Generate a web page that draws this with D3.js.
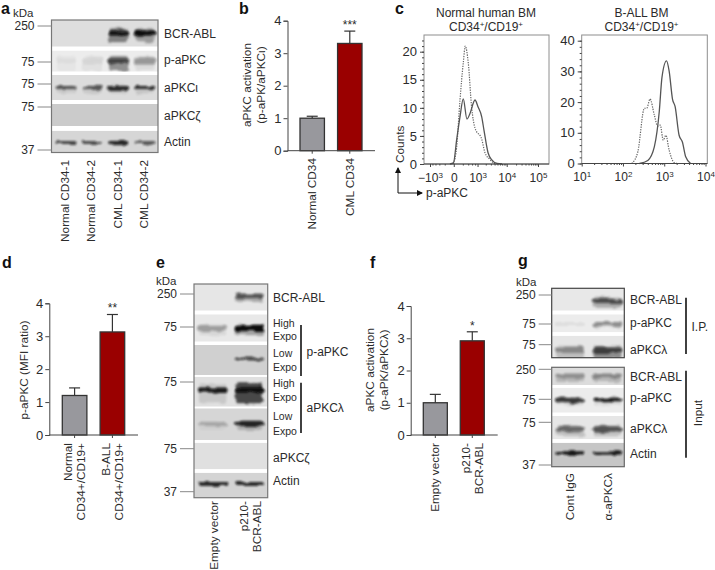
<!DOCTYPE html>
<html>
<head>
<meta charset="utf-8">
<script src="https://d3js.org/d3.v7.min.js"></script>
<style>
  body { margin: 0; background: #fff; }
  svg { display: block; }
  text { font-family: "Liberation Sans", Arial, sans-serif; fill: #2b2b2b; font-size: 12px; }
  .letter { font-size: 16px; font-weight: bold; fill: #111; }
  .axis path, .axis line { stroke: #444; stroke-width: 1; }
  .flow .axis path { display: none; }
</style>
</head>
<body>
<script>
// ---- data ----

// panel a
var aLanes = ["Normal CD34-1", "Normal CD34-2", "CML CD34-1", "CML CD34-2"];
var aProteins = ["BCR-ABL", "p-aPKC", "aPKC\u03b9", "aPKC\u03b6", "Actin"];
var aKda = ["250", "75", "75", "75", "37"];
var aBands = [[0, 0, 0.95, 1], [0.03, 0.05, 0.6, 0.32], [0.62, 0.6, 0.82, 0.8], [0, 0, 0, 0], [0.72, 0.68, 0.85, 0.62]];
var aSmear = [[0, 0, 0.5, 0.35], [0.03, 0.05, 0.45, 0.08], [0.1, 0.1, 0.12, 0.12], [0, 0, 0, 0], [0, 0, 0.1, 0]];

// panel b
var bCats = ["Normal CD34", "CML CD34"];
var bMeans = [1.0, 3.3];
var bTops = [1.06, 3.68];

// panel c, flow histograms as [intensity, counts]
var cNormalSolid = [[-70, 0], [-5, 0.2], [50, 4.3], [123, 8.4], [214, 11.6], [347, 8], [486, 9], [794, 11.4], [1040, 10.2], [1432, 8.4], [1731, 6], [2397, 2], [3274, 0.7], [4815, 0.1], [7040, 0]];
var cNormalDotted = [[-5, 0], [50, 3], [123, 11.4], [214, 18], [282, 21], [403, 18], [578, 10], [794, 6.4], [1432, 4.4], [1880, 2], [2800, 0.8], [4000, 0.1], [5500, 0]];
var cAllSolid = [[251, 0], [400, 1], [575, 5.4], [759, 17], [880, 28], [1138, 33.4], [1318, 30], [1585, 21], [1837, 18.5], [2291, 9.2], [2754, 7], [3311, 2.2], [4365, 0]];
var cAllDotted = [[164, 0], [229, 3.8], [331, 18], [377, 18], [453, 21], [575, 15.8], [692, 12.2], [802, 12.5], [946, 7.6], [1096, 9.2], [1318, 4.3], [1738, 0.3], [2089, 0]];
var cNormalXTicks = [-1000, 0, 1000, 10000, 100000];
var cAllXTicks = [10, 100, 1000, 10000];

// panel d
var dCats = ["Normal\nCD34+/CD19+", "B-ALL\nCD34+/CD19+"];
var dMeans = [1.2, 3.13];
var dTops = [1.43, 3.66];

// panel e
var eLanes = ["Empty vector", "p210-\nBCR-ABL"];
var eKda = ["250", "75", "75", "75", "37"];
var eBands = [[0, 0.55], [0.28, 1], [0, 0.7], [0.92, 1], [0.2, 0.85], [0, 0], [0.85, 0.85]];
var eSmear = [[0, 0.3], [0.08, 0.35], [0, 0], [0.12, 0.8], [0.04, 0.22], [0, 0], [0, 0]];

// panel f
var fCats = ["Empty vector", "p210-\nBCR-ABL"];
var fMeans = [1.0, 2.92];
var fTops = [1.26, 3.2];

// panel g
var gLanes = ["Cont IgG", "\u03b1-aPKC\u03bb"];
var gIpProteins = ["BCR-ABL", "p-aPKC", "aPKC\u03bb"];
var gInputProteins = ["BCR-ABL", "p-aPKC", "aPKC\u03bb", "Actin"];
var gIpKda = ["250", "75", "75"];
var gInputKda = ["250", "75", "75", "37"];
var gIpBands = [[0, 0.6], [0.06, 0.35], [0.3, 0.62]];
var gIpSmear = [[0, 0.3], [0, 0.1], [0.2, 0.45]];
var gInputBands = [[0.22, 0.28], [0.78, 0.92], [0.5, 0.62], [0.95, 0.92]];
var gInputSmear = [[0.2, 0.2], [0.1, 0.1], [0.18, 0.18], [0, 0]];

// ---- page ----
var svg = d3.select("body").append("svg").attr("width", 715).attr("height", 570);
var defs = svg.append("defs");
var soft = defs.append("filter").attr("id", "soft").attr("x", "-30%").attr("y", "-100%").attr("width", "160%").attr("height", "300%");
soft.append("feTurbulence").attr("type", "fractalNoise").attr("baseFrequency", "0.09 0.16").attr("numOctaves", 2).attr("seed", 4).attr("result", "n");
soft.append("feDisplacementMap").attr("in", "SourceGraphic").attr("in2", "n").attr("scale", 5).attr("xChannelSelector", "R").attr("yChannelSelector", "G").attr("result", "d");
soft.append("feGaussianBlur").attr("in", "d").attr("stdDeviation", 1.2);
var clipCount = 0;

function label(x, y, str, anchor, size) {
  return svg.append("text").attr("x", x).attr("y", y).attr("dy", "0.35em")
    .attr("text-anchor", anchor || "start").style("font-size", (size || 12) + "px").text(str);
}

function letter(x, y, str) {
  svg.append("text").attr("class", "letter").attr("x", x).attr("y", y).text(str);
}

function vertical(x, y, str, anchor, size) {
  return svg.append("text").attr("transform", "translate(" + x + "," + y + ") rotate(-90)")
    .attr("dy", "0.35em").attr("text-anchor", anchor || "end").style("font-size", (size || 11.8) + "px").text(str);
}

// rotated category labels, two lines sit either side of the centre
function catLabels(x, cats, top, shift) {
  cats.forEach(function (c, i) {
    var lines = c.split("\n");
    var cx = x(c) + x.bandwidth() / 2 + (shift || 0);
    lines.forEach(function (l, k) {
      vertical(cx + (k - (lines.length - 1) / 2) * 13.2, top, l);
    });
  });
}

function bracket(x, y1, y2) {
  svg.append("line").attr("x1", x).attr("x2", x).attr("y1", y1).attr("y2", y2)
    .attr("stroke", "#111").attr("stroke-width", 1.6);
}

// one western blot: strips of grey with blurred bands
function drawBlot(cfg) {
  var x = d3.scaleBand().domain(d3.range(cfg.bands[0].length)).range(cfg.laneRange).paddingInner(0.2).paddingOuter(0);
  var g = svg.append("g");
  g.append("rect").attr("x", cfg.x0).attr("y", cfg.y0).attr("width", cfg.x1 - cfg.x0).attr("height", cfg.y1 - cfg.y0).attr("fill", "#fff");

  cfg.strips.forEach(function (s, i) {
    var id = "strip" + (clipCount++);
    defs.append("clipPath").attr("id", id).append("rect")
      .attr("x", cfg.x0).attr("y", s.top).attr("width", cfg.x1 - cfg.x0).attr("height", s.bottom - s.top);
    var sg = g.append("g").attr("clip-path", "url(#" + id + ")");
    sg.append("rect").attr("x", cfg.x0).attr("y", s.top).attr("width", cfg.x1 - cfg.x0).attr("height", s.bottom - s.top).attr("fill", s.bg);

    cfg.bands[i].forEach(function (v, lane) {
      var w = x.bandwidth();
      var smearV = cfg.smear[i][lane];
      if (smearV > 0) {
        sg.append("rect").attr("x", x(lane) + 1).attr("y", s.bandY - s.smearH / 3).attr("width", w - 2).attr("height", s.smearH).attr("rx", 3)
          .attr("fill", "#222").attr("opacity", smearV).attr("filter", "url(#soft)");
      }
      if (v > 0) {
        sg.append("rect").attr("x", x(lane)).attr("y", s.bandY - s.bandH / 2).attr("width", w).attr("height", s.bandH).attr("rx", 2)
          .attr("fill", "#0c0c0c").attr("opacity", v).attr("filter", "url(#soft)");
      }
    });
  });

  g.append("rect").attr("x", cfg.x0).attr("y", cfg.y0).attr("width", cfg.x1 - cfg.x0).attr("height", cfg.y1 - cfg.y0)
    .attr("fill", "none").attr("stroke", cfg.frame || "#777").attr("stroke-width", 1.2);

  cfg.kda.forEach(function (k, i) {
    svg.append("line").attr("x1", cfg.x0 - cfg.tickLen).attr("x2", cfg.x0).attr("y1", cfg.tickY[i]).attr("y2", cfg.tickY[i])
      .attr("stroke", "#888").attr("stroke-width", 1);
    label(cfg.x0 - cfg.tickLen - 3, cfg.tickY[i], k, "end");
  });
  (cfg.names || []).forEach(function (n, i) {
    label(cfg.nameX, cfg.nameY[i], n);
  });
  return x;
}

function drawBars(cfg) {
  var y = d3.scaleLinear().domain([0, 4]).range([cfg.y0, cfg.y4]);
  var x = d3.scaleBand().domain(cfg.cats).range(cfg.barRange).paddingInner(0.35).paddingOuter(0);
  var g = svg.append("g");
  var colors = ["#98989d", "#9a0000"];

  // error bars go behind the bars
  cfg.cats.forEach(function (c, i) {
    var cx = x(c) + x.bandwidth() / 2;
    g.append("line").attr("x1", cx).attr("x2", cx).attr("y1", y(cfg.means[i])).attr("y2", y(cfg.tops[i])).attr("stroke", "#333").attr("stroke-width", 1.2);
    g.append("line").attr("x1", cx - 5.5).attr("x2", cx + 5.5).attr("y1", y(cfg.tops[i])).attr("y2", y(cfg.tops[i])).attr("stroke", "#333").attr("stroke-width", 1.2);
    g.append("rect").attr("x", x(c)).attr("y", y(cfg.means[i])).attr("width", x.bandwidth()).attr("height", y(0) - y(cfg.means[i]))
      .attr("fill", colors[i]).attr("stroke", "#333").attr("stroke-width", 1.3);
  });

  var ax = g.append("g").attr("class", "axis").attr("transform", "translate(" + cfg.axisX + ",0)")
    .call(d3.axisLeft(y).tickValues([0, 1, 2, 3, 4]).tickFormat(d3.format("d")).tickSize(4).tickPadding(2));
  ax.selectAll("text").style("font-size", "13px");
  g.append("line").attr("x1", cfg.axisX).attr("x2", cfg.axisEnd).attr("y1", y(0)).attr("y2", y(0)).attr("stroke", "#444");
  cfg.cats.forEach(function (c) {
    var cx = x(c) + x.bandwidth() / 2;
    g.append("line").attr("x1", cx).attr("x2", cx).attr("y1", y(0)).attr("y2", y(0) + 3).attr("stroke", "#444");
  });

  catLabels(x, cfg.cats, cfg.labelTop);
  var sig = x(cfg.cats[1]) + x.bandwidth() / 2;
  svg.append("text").attr("x", sig).attr("y", y(cfg.tops[1]) - 2).attr("text-anchor", "middle").style("font-size", "12px").text(cfg.stars);
}

function supTick(sel, fmt) {
  sel.each(function (d) {
    var t = d3.select(this).text("");
    var parts = fmt(d);
    t.append("tspan").text(parts[0]);
    if (parts[1]) t.append("tspan").attr("dy", "-0.45em").style("font-size", "8px").text(parts[1]);
  });
}

function drawFlow(cfg) {
  var g = svg.append("g").attr("class", "flow");
  var line = d3.line().x(function (d) { return cfg.x(d[0]); }).y(function (d) { return cfg.y(d[1]); }).curve(d3.curveMonotoneX);

  g.append("rect").attr("x", cfg.left).attr("y", cfg.top).attr("width", cfg.right - cfg.left).attr("height", cfg.y(0) - cfg.top)
    .attr("fill", "#fff").attr("stroke", "#8e8e8e");

  g.append("path").attr("d", line(cfg.dotted)).attr("fill", "none").attr("stroke", "#666").attr("stroke-width", 1.2).attr("stroke-dasharray", "1.3 1.2");
  g.append("path").attr("d", line(cfg.solid)).attr("fill", "none").attr("stroke", "#555").attr("stroke-width", 1.3);

  var yAxis = g.append("g").attr("class", "axis").attr("transform", "translate(" + cfg.left + ",0)")
    .call(d3.axisLeft(cfg.y).tickValues(cfg.yMajor).tickFormat(d3.format("d")).tickSize(4).tickPadding(3));
  yAxis.selectAll("text").style("font-size", "13px");
  g.append("g").attr("class", "axis").attr("transform", "translate(" + cfg.left + ",0)")
    .call(d3.axisLeft(cfg.y).tickValues(cfg.yMinor).tickFormat("").tickSize(2));

  var xAxis = g.append("g").attr("class", "axis").attr("transform", "translate(0," + cfg.y(0) + ")")
    .call(d3.axisBottom(cfg.x).tickValues(cfg.xMajor).tickSize(3).tickPadding(6));
  xAxis.selectAll("text").style("font-size", "12px").call(supTick, cfg.xFmt);
  g.append("g").attr("class", "axis").attr("transform", "translate(0," + cfg.y(0) + ")")
    .call(d3.axisBottom(cfg.x).tickValues(cfg.xMinor).tickFormat("").tickSize(1.5));
  g.append("line").attr("x1", cfg.left).attr("x2", cfg.right).attr("y1", cfg.y(0)).attr("y2", cfg.y(0)).attr("stroke", "#444");
}

// CD34+/CD19+ title with raised plus signs
function cellTitle(x, y) {
  var t = svg.append("text").attr("x", x).attr("y", y).attr("text-anchor", "middle");
  t.append("tspan").text("CD34");
  t.append("tspan").attr("dy", "-0.5em").style("font-size", "8px").text("+");
  t.append("tspan").attr("dy", "0.33em").text("/CD19");
  t.append("tspan").attr("dy", "-0.5em").style("font-size", "8px").text("+");
}

// ---- layout ----
letter(1, 14, "a"); letter(239, 14, "b"); letter(395, 14, "c");
letter(2, 268, "d"); letter(156, 268, "e"); letter(370, 268, "f"); letter(518, 266, "g");

// a
label(13, 13, "kDa", "start", 11.5);
var aX = drawBlot({
  x0: 51.5, x1: 158, y0: 20, y1: 152.5, laneRange: [55.5, 155.5], bands: aBands, smear: aSmear, kda: aKda,
  tickY: [26, 62, 84, 107, 150], tickLen: 14,
  strips: [
    { top: 20, bottom: 46.7, bg: "#dedede", bandY: 33, bandH: 5, smearH: 14 },
    { top: 50.5, bottom: 71.7, bg: "#ececec", bandY: 61, bandH: 5, smearH: 15 },
    { top: 75, bottom: 100, bg: "#dcdcdc", bandY: 88, bandH: 4, smearH: 8 },
    { top: 104, bottom: 126, bg: "#cbcbcb", bandY: 115, bandH: 3, smearH: 0 },
    { top: 130.7, bottom: 152.5, bg: "#d6d6d6", bandY: 142.5, bandH: 3.2, smearH: 5 }
  ],
  names: aProteins, nameX: 164, nameY: [34, 60, 88, 116, 142]
});
aLanes.forEach(function (l, i) {
  vertical(aX(i) + aX.bandwidth() / 2 - 1, 160, l);
});

// b
drawBars({ cats: bCats, means: bMeans, tops: bTops, y0: 150.7, y4: 20.7, axisX: 287.5, axisEnd: 375, barRange: [300, 362], labelTop: 158, stars: "***" });
vertical(247, 85, "aPKC activation", "middle");
vertical(261, 85, "(p-aPK/aPKC\u03b9)", "middle");

// c
label(486, 12.5, "Normal human BM", "middle");
cellTitle(486, 31);
label(641.5, 12.5, "B-ALL BM", "middle");
cellTitle(641.5, 31);

var cxLeft = d3.scaleSymlog().constant(214).domain([-1000, 100000]).range([430, 538]);
var cyLeft = d3.scaleLinear().domain([0, 20]).range([164, 51.7]);
drawFlow({
  left: 424, right: 549, top: 35, x: cxLeft, y: cyLeft, solid: cNormalSolid, dotted: cNormalDotted,
  yMajor: [0, 5, 10, 15, 20], yMinor: d3.range(0, 23, 1),
  xMajor: cNormalXTicks,
  xMinor: [-800, -600, -400, -200, 200, 400, 600, 800, 2000, 3000, 4000, 5000, 6000, 7000, 8000, 9000, 20000, 30000, 40000, 50000, 60000, 70000, 80000, 90000],
  xFmt: function (d) {
    if (d === 0) return ["0"];
    return [(d < 0 ? "\u2212" : "") + "10", String(Math.round(Math.log10(Math.abs(d))))];
  }
});
var cxRight = d3.scaleLog().domain([10, 10000]).range([581.7, 705.5]);
var cyRight = d3.scaleLinear().domain([0, 40]).range([163.5, 40.7]);
drawFlow({
  left: 581.7, right: 707.3, top: 35, x: cxRight, y: cyRight, solid: cAllSolid, dotted: cAllDotted,
  yMajor: [0, 10, 20, 30, 40], yMinor: d3.range(0, 42, 2),
  xMajor: cAllXTicks,
  xMinor: [20, 30, 40, 50, 60, 70, 80, 90, 200, 300, 400, 500, 600, 700, 800, 900, 2000, 3000, 4000, 5000, 6000, 7000, 8000, 9000],
  xFmt: function (d) { return ["10", String(Math.round(Math.log10(d)))]; }
});

// axes arrows under the left histogram
defs.append("marker").attr("id", "head").attr("viewBox", "0 0 6 6").attr("refX", 5).attr("refY", 3).attr("markerWidth", 6).attr("markerHeight", 6).attr("orient", "auto")
  .append("path").attr("d", "M0,0L6,3L0,6Z").attr("fill", "#111");
svg.append("path").attr("d", "M398,193V168").attr("fill", "none").attr("stroke", "#111").attr("marker-end", "url(#head)");
svg.append("path").attr("d", "M398,193H422").attr("fill", "none").attr("stroke", "#111").attr("marker-end", "url(#head)");
vertical(400, 163, "Counts", "start");
label(426, 193, "p-aPKC");

// d
drawBars({ cats: dCats, means: dMeans, tops: dTops, y0: 435, y4: 303.3, axisX: 49.3, axisEnd: 138, barRange: [62.3, 124.7], labelTop: 443, stars: "**" });
vertical(24, 370, "p-aPKC (MFI ratio)", "middle");

// e
label(156, 281, "kDa", "start", 11.5);
var eX = drawBlot({
  x0: 194, x1: 267.7, y0: 284, y1: 497.7, laneRange: [198, 264], bands: eBands, smear: eSmear, kda: eKda,
  tickY: [294, 327, 382, 448.7, 491.7], tickLen: 14,
  strips: [
    { top: 284, bottom: 310.7, bg: "#e6e6e6", bandY: 296, bandH: 4, smearH: 9 },
    { top: 314.3, bottom: 341.7, bg: "#e8e8e8", bandY: 328, bandH: 6, smearH: 11 },
    { top: 345, bottom: 375, bg: "#d0d0d0", bandY: 359, bandH: 3, smearH: 0 },
    { top: 376.7, bottom: 406.7, bg: "#e0e0e0", bandY: 390, bandH: 5, smearH: 20 },
    { top: 408.3, bottom: 440, bg: "#d6d6d6", bandY: 424, bandH: 4, smearH: 9 },
    { top: 442.7, bottom: 469.3, bg: "#e0e0e0", bandY: 456, bandH: 3, smearH: 0 },
    { top: 472.7, bottom: 497.7, bg: "#d4d4d4", bandY: 484, bandH: 4, smearH: 0 }
  ],
  names: ["BCR-ABL", "aPKC\u03b6", "Actin"], nameX: 273, nameY: [297.7, 457.7, 480.7]
});
[["High", 323.3], ["Expo", 336.7], ["Low", 353.3], ["Expo", 367.3], ["High", 383.3], ["Expo", 397.3], ["Low", 416.7], ["Expo", 431]].forEach(function (d) {
  label(273, d[1], d[0], "start", 10.5);
});
bracket(301, 325, 376);
bracket(301, 382.7, 433);
label(306.5, 351.7, "p-aPKC");
label(306.5, 408, "aPKC\u03bb");
catLabels(eX.copy().domain(eLanes), eLanes, 501, 1);

// f
drawBars({ cats: fCats, means: fMeans, tops: fTops, y0: 435, y4: 306, axisX: 410.7, axisEnd: 497.7, barRange: [423.3, 484.3], labelTop: 443, stars: "*" });
vertical(370, 370, "aPKC activation", "middle");
vertical(384, 370, "(p-aPK/aPKC\u03bb)", "middle");

// g
label(516, 282, "kDa", "start", 11.5);
var gX = drawBlot({
  x0: 551.7, x1: 624.3, y0: 288.3, y1: 357.7, laneRange: [555, 622.5], bands: gIpBands, smear: gIpSmear, kda: gIpKda,
  tickY: [295, 324, 344.7], tickLen: 13, frame: "#444",
  strips: [
    { top: 288.3, bottom: 310.7, bg: "#e8e8e8", bandY: 301, bandH: 4, smearH: 10 },
    { top: 314.3, bottom: 332.3, bg: "#ececec", bandY: 324, bandH: 4, smearH: 6 },
    { top: 335.7, bottom: 357.7, bg: "#e6e6e6", bandY: 350, bandH: 6, smearH: 13 }
  ],
  names: gIpProteins, nameX: 630, nameY: [299.3, 323, 350]
});
drawBlot({
  x0: 551.7, x1: 624.3, y0: 367.3, y1: 466.7, laneRange: [555, 622.5], bands: gInputBands, smear: gInputSmear, kda: gInputKda,
  tickY: [369.3, 399.3, 422.3, 465], tickLen: 13, frame: "#666",
  strips: [
    { top: 367.3, bottom: 385, bg: "#dcdcdc", bandY: 376, bandH: 4, smearH: 9 },
    { top: 387.7, bottom: 412.7, bg: "#ececec", bandY: 400, bandH: 4.5, smearH: 8 },
    { top: 416, bottom: 439.3, bg: "#e6e6e6", bandY: 429, bandH: 5, smearH: 11 },
    { top: 442.7, bottom: 466.7, bg: "#c6c6c6", bandY: 453, bandH: 3.5, smearH: 0 }
  ],
  names: gInputProteins, nameX: 630, nameY: [376.7, 397.7, 429, 453.3]
});
bracket(686, 297.7, 354);
bracket(686, 370.7, 457.7);
label(691.5, 326.7, "I.P.");
vertical(697.7, 413, "Input", "middle");
catLabels(gX.copy().domain(gLanes), gLanes, 473);
</script>
</body>
</html>
